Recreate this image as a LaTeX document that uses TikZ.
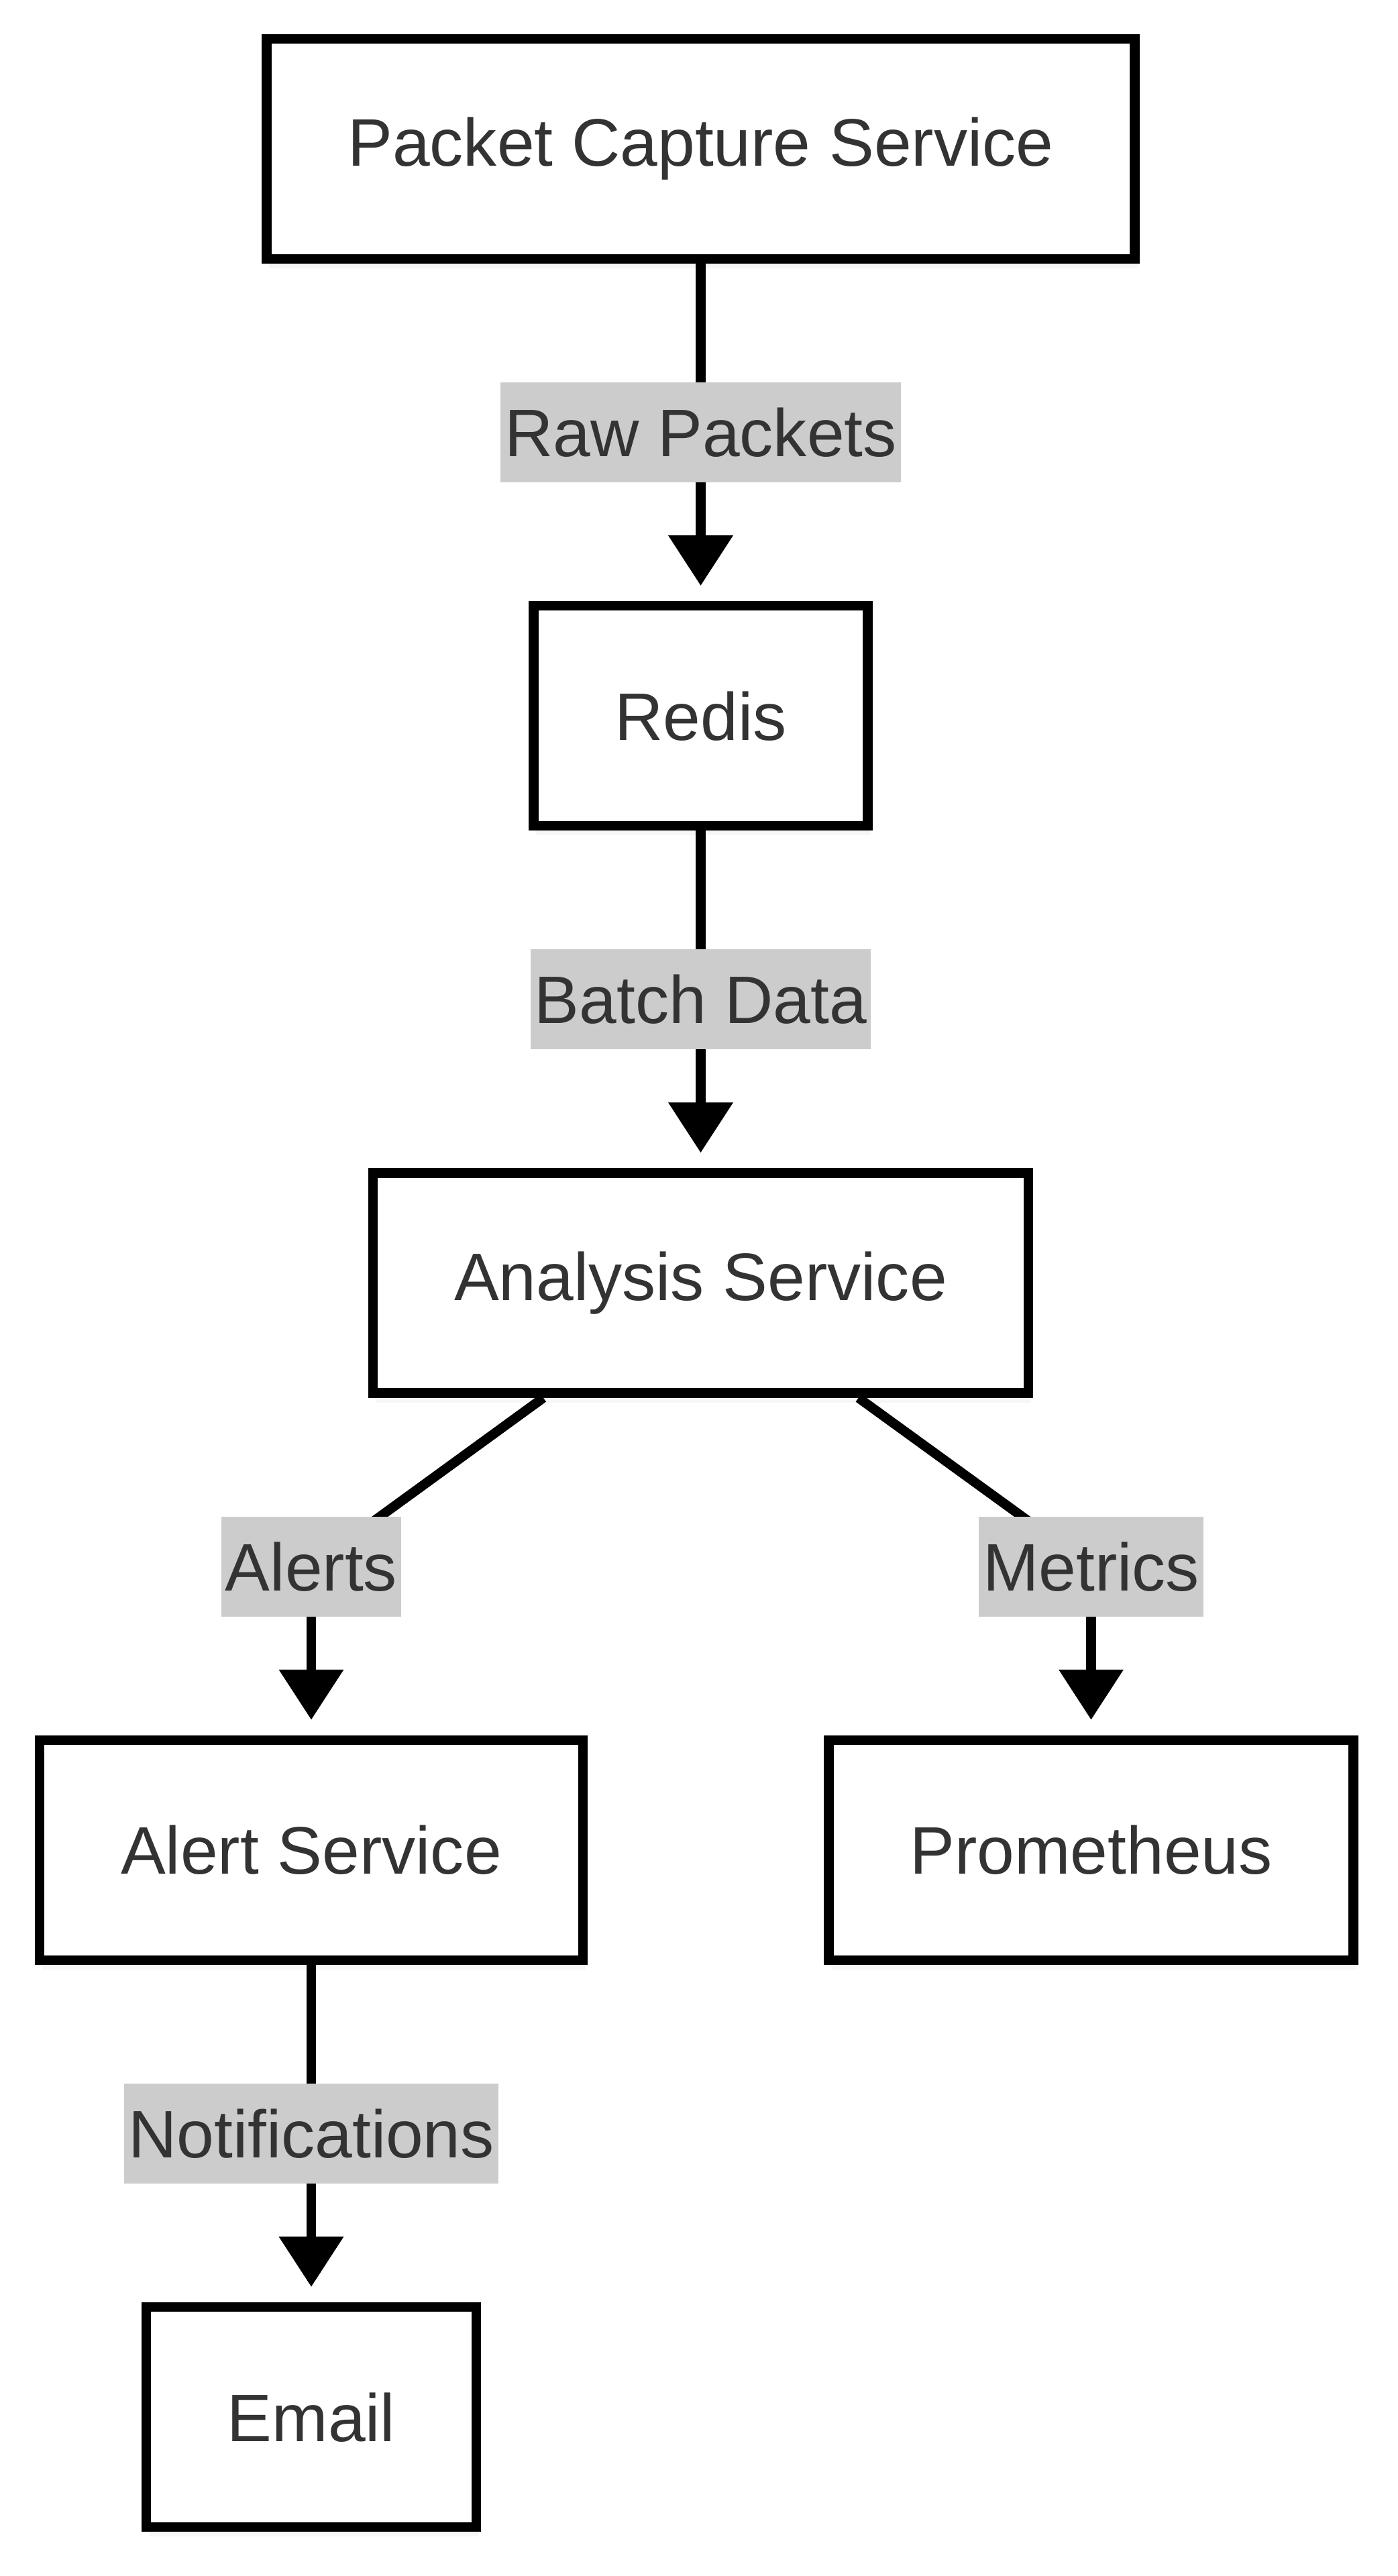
\documentclass[tikz,border=0pt]{standalone}
\usepackage{fontspec}
\setmainfont{Liberation Sans}
\usetikzlibrary{positioning,arrows.meta,shadows}

\definecolor{txtgray}{HTML}{333333}
\definecolor{lblgray}{HTML}{CCCCCC}

\tikzset{
  svc/.style={draw=black, line width=0.143cm, fill=white, text=txtgray,
    font=\fontsize{28.5pt}{34pt}\selectfont,
    inner xsep=1.21cm, minimum height=3.28cm,
    general shadow={fill=black, opacity=0.03, shadow xshift=0.04cm, shadow yshift=-0.14cm},
    general shadow={fill=black, opacity=0.05, shadow xshift=0.02cm, shadow yshift=-0.08cm}},
  lbl/.style={fill=lblgray, text=txtgray, font=\fontsize{28.5pt}{34pt}\selectfont,
    inner xsep=0.06cm, inner ysep=0pt, minimum height=1.49cm},
  link/.style={draw=black, line width=0.143cm},
  flow/.style={link, -{Triangle[length=0.75cm,width=0.93cm]}, shorten >=0.23cm},
}

\begin{document}
\begin{tikzpicture}[node distance=5.03cm]
  \useasboundingbox (0,0) rectangle (20.83,-38.40);

  % services
  \node[svc] (capture) at (10.445,-2.22) {Packet Capture Service};
  \node[svc, below=of capture] (redis) {Redis};
  \node[svc, below=of redis] (analysis) {Analysis Service};
  \node[svc, below=of analysis, xshift=-5.805cm] (alert) {Alert Service};
  \node[svc, below=of analysis, xshift=5.82cm] (prometheus) {Prometheus};
  \node[svc, below=of alert] (email) {Email};

  % bends of the two branches
  \coordinate[above=2.515cm of alert] (alertbend);
  \coordinate[above=2.515cm of prometheus] (metricsbend);

  \path (capture) edge[flow] node[lbl] (rawlbl) {Raw Packets} (redis)
        (redis)   edge[flow] node[lbl] (batchlbl) {Batch Data} (analysis)
        (alert)   edge[flow] node[lbl] (notiflbl) {Notifications} (email);

  \draw[link] (analysis) -- (alertbend);
  \draw[flow] (alertbend) -- (alert);
  \draw[link] (analysis) -- (metricsbend);
  \draw[flow] (metricsbend) -- (prometheus);

  \node[lbl] (alertslbl) at (alertbend) {Alerts};
  \node[lbl] (metricslbl) at (metricsbend) {Metrics};
\end{tikzpicture}
\end{document}
